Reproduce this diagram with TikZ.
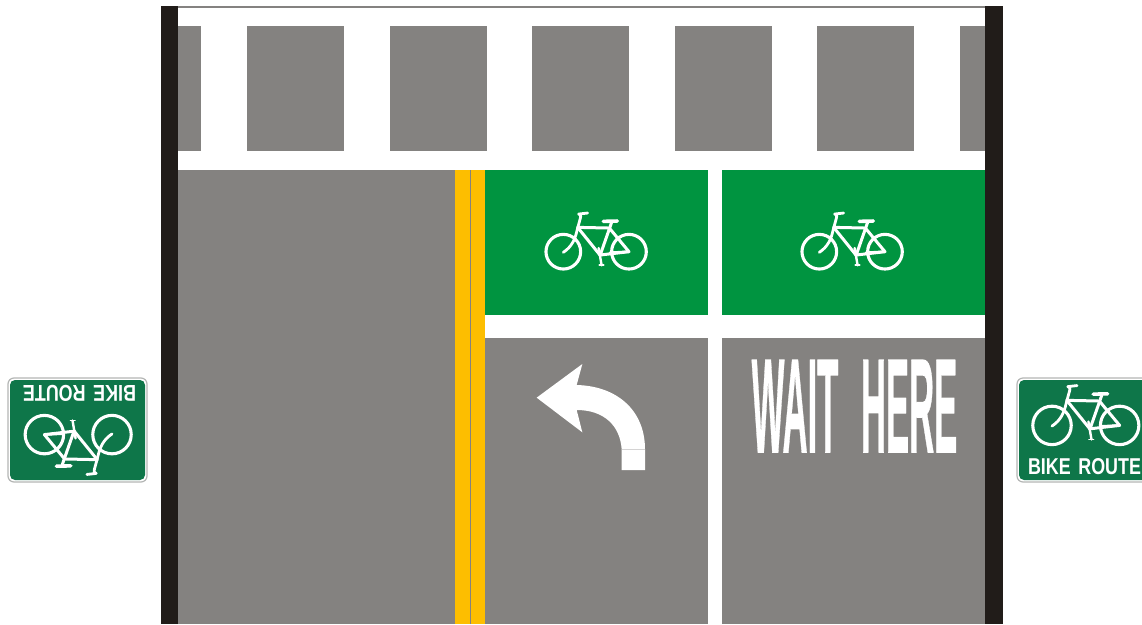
\documentclass[tikz,border=0pt]{standalone}
\usepackage{fontspec}
\usepackage{graphicx}
\setmainfont{Liberation Sans}
\newfontfamily\legendfont[BoldFeatures={FakeBold=0.8}]{Liberation Sans}
\definecolor{road}{HTML}{848280}
\definecolor{kerb}{HTML}{211C19}
\definecolor{lane}{HTML}{009440}
\definecolor{centre}{HTML}{FDBE00}
\definecolor{signgreen}{HTML}{0E7649}
\definecolor{signedge}{HTML}{B4B6B5}
\tikzset{
  road/.style={fill=road,draw=none},
  kerb/.style={fill=kerb,draw=none},
  lanegreen/.style={fill=lane,draw=none},
  yellowline/.style={fill=centre,draw=none},
  marking/.style={fill=white,draw=none},
  bikeline/.style={draw=white,line width=#1,line cap=round,line join=round},
  signtext/.style={text=white,inner sep=0pt,transform shape}
}
% bike drawn with the coordinates of a 3x crop, origin at the left wheel hub
\newcommand{\bikedraw}[4]{% x, y, scale, wheel radius
  \begin{scope}[shift={(#1,#2)},scale=#3/3,shift={(-130,-185)}]
    \draw[bikeline=3.1pt] (130,185) circle[radius=#4] (327,185) circle[radius=#4];
    \draw[bikeline=2.8pt] (130,187) .. controls (155,170) and (165,150) .. (172,118)
      -- (181,85) .. controls (184,76) and (180,72) .. (176,72) -- (203,69);
    \draw[bikeline=3pt] (173,112) -- (268,114) -- (327,185) -- (240,195) -- cycle;
    \draw[bikeline=3pt] (275,97) -- (240,197);
    \draw[bikeline=2.6pt] (270,188) -- (327,185);
    \draw[bikeline=2.4pt] (236,174) -- (245,226);
    \draw[bikeline=1.8pt] (238,226) -- (251,226);
    \draw[bikeline=3.6pt] (250,94) -- (292,93);
  \end{scope}
}
% road sign centred on (x,y), turned by the given angle
\newcommand{\routesign}[3]{%
  \begin{scope}[shift={(#1,#2)},rotate=#3]
    \draw[draw=signedge,line width=1.2pt,fill=white,rounded corners=6pt] (-69.5,-52) rectangle (69.5,52);
    \fill[signgreen,rounded corners=5pt] (-67.5,-50) rectangle (67.5,50);
    \bikedraw{-34.5}{-4.6}{1.03}{56}
    \node[signtext] (#1sign) at (-2,36.3) {\resizebox{113pt}{16pt}{\bfseries BIKE\hspace{.15em} ROUTE}};
  \end{scope}
}
\begin{document}
\begin{tikzpicture}[x=1pt,y=-1pt]
\useasboundingbox (0,0) rectangle (1142,624);
\clip (0,0) rectangle (1142,624);
\fill[white] (0,0) rectangle (1142,624);
% top edge and crosswalk blocks
\fill[road] (178,6) rectangle (985,7.5);
\foreach \a/\b in {178/201,247/344,390/487,532/629,675/772,817/914,960/985}
  \fill[road] (\a,26) rectangle (\b,151);
% roadway
\fill[road] (178,169.5) rectangle (985,624);
% kerbs
\fill[kerb] (160.5,6) rectangle (178,624);
\fill[kerb] (985,6) rectangle (1003,624);
% double yellow centre line
\fill[yellowline] (455,169.5) rectangle (469.5,624);
\fill[yellowline] (471,169.5) rectangle (484.5,624);
% green boxes
\fill[lanegreen] (484.5,169.5) rectangle (708,315);
\fill[lanegreen] (722,169.5) rectangle (985,315);
% lane markings
\fill[marking] (484.5,315) rectangle (985,338);
\fill[marking] (708,169.5) rectangle (722,624);
% bicycles on the green boxes
\bikedraw{563.3}{251.7}{1}{52}
\bikedraw{819.3}{251.7}{1}{52}
% left turn arrow
\begin{scope}[shift={(520,350)},scale=1/3]
  \fill[marking] (50,143) -- (187,42) -- (170,105)
    .. controls (290,108) and (375,180) .. (375,298)
    -- (375,360) -- (305,360) -- (305,298)
    .. controls (300,225) and (250,180) .. (170,180)
    -- (187,247) -- cycle;
  \draw[draw=road!35,line width=.5pt] (305,298) -- (375,298);
\end{scope}
% pavement legend
\node[text=white,inner sep=0pt] (wait) at (854.5,406.2)
  {\resizebox{205.6pt}{92.3pt}{\legendfont\bfseries WAIT\hspace{.65em}HERE}};
% signs
\routesign{77.5}{430}{180}
\routesign{1086.5}{430}{0}
\end{tikzpicture}
\end{document}
